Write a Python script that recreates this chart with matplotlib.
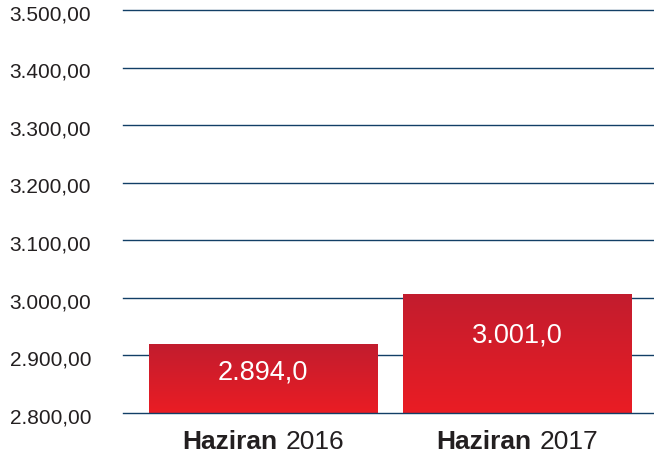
import numpy as np
import matplotlib
matplotlib.use("Agg")
import matplotlib.pyplot as plt
import matplotlib.transforms as mtrans
from matplotlib.colors import LinearSegmentedColormap
from matplotlib.offsetbox import TextArea, HPacker, AnnotationBbox

plt.rcParams['font.family'] = ['Liberation Sans', 'DejaVu Sans']

months = ["Haziran", "Haziran"]
years = ["2016", "2017"]
heights = [2919.0, 3007.0]          # bar tops as drawn in the picture
labels = ["2.894,0", "3.001,0"]     # printed values
yticks = [2800, 2900, 3000, 3100, 3200, 3300, 3400, 3500]

def tr_fmt(v):
    s = "{:,.2f}".format(v)
    return s.replace(",", "X").replace(".", ",").replace("X", ".")

fig = plt.figure(figsize=(6.54, 4.57), dpi=100)
ax = fig.add_axes([123/654, 1-413/457, 531/654, 403/457])

x = np.arange(len(heights))
w = 0.9
grid_c = "#123f66"
for yv in yticks:
    # baseline sits on top of the bars, the rest behind them
    ax.axhline(yv, color=grid_c, lw=1.0, zorder=3 if yv == yticks[0] else 1,
               clip_on=False)

cmap = LinearSegmentedColormap.from_list("red", ["#c21d2e", "#ea1c24"])
grad = np.linspace(0, 1, 256).reshape(-1, 1)
bars = ax.bar(x, [h - 2800 for h in heights], bottom=2800, width=w,
              color="none", zorder=2)
for b, h in zip(bars, heights):
    im = ax.imshow(grad, cmap=cmap, aspect="auto", zorder=2,
                   extent=[b.get_x(), b.get_x() + w, 2800, h], origin="upper")
    im.set_clip_path(b)

ax.text(0, 2871, labels[0], color="white", fontsize=19.5, ha="center", va="center", zorder=3)
ax.text(1, 2935, labels[1], color="white", fontsize=19.5, ha="center", va="center", zorder=3)

for i in range(len(x)):
    t1 = TextArea(months[i], textprops=dict(fontsize=19, fontweight="bold", color="#231f20"))
    t2 = TextArea(years[i], textprops=dict(fontsize=19, color="#231f20"))
    box = HPacker(children=[t1, t2], align="baseline", pad=0, sep=6)
    ab = AnnotationBbox(box, (x[i], 0), xycoords=("data", "axes fraction"),
                        xybox=(0, -21), boxcoords="offset points", frameon=False,
                        box_alignment=(0.5, 0.5))
    ax.add_artist(ab)

ax.set_xlim(-0.551, 1.539)
ax.set_ylim(2800, 3500)
ax.set_yticks(yticks)
ax.set_yticklabels([tr_fmt(v) for v in yticks], fontsize=15, color="#231f20")
ax.set_xticks([])
ax.tick_params(axis="y", length=0, pad=23)
# nudge tick labels a little down, like the original
shift = mtrans.ScaledTranslation(0, -2/72, fig.dpi_scale_trans)
for lab in ax.get_yticklabels():
    lab.set_transform(lab.get_transform() + shift)
for s in ax.spines.values():
    s.set_visible(False)

fig.savefig("out.png", dpi=100)
